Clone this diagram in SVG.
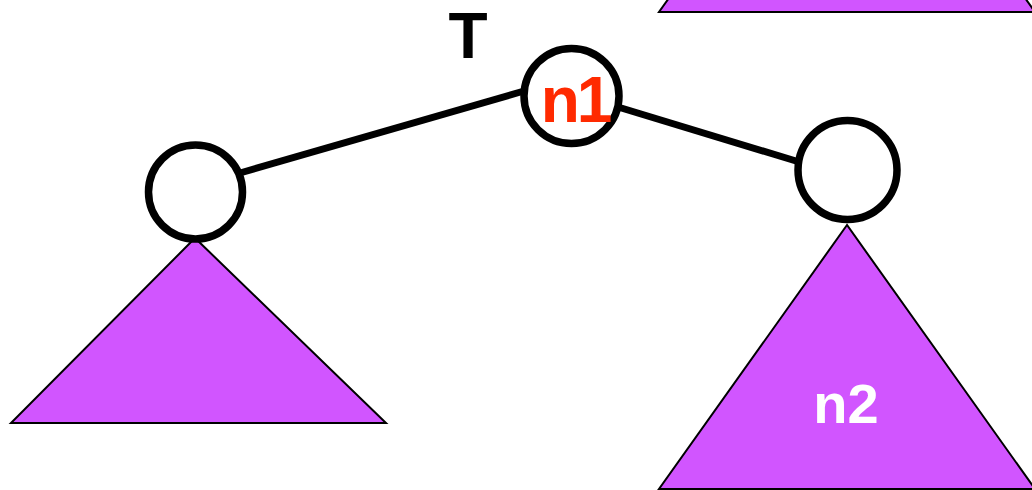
<svg xmlns="http://www.w3.org/2000/svg" width="1032" height="490" viewBox="0 0 1032 490">
<style>
.tri{fill:#D155FF;stroke:#000;stroke-width:2;stroke-linejoin:miter}
.node{fill:#fff;stroke:#000;stroke-width:7.5}
.edge{stroke:#000;stroke-width:7;fill:none}
.lbl{font-family:"Liberation Sans",Arial,sans-serif;font-weight:bold}
</style>
<rect width="1032" height="490" fill="#fff"/>
<g id="top-subtree"><polygon class="tri" points="847,-252 659,12 1035,12"/></g>
<g id="left-subtree"><polygon class="tri" points="195,238 11,423 386,423"/></g>
<g id="right-subtree"><polygon class="tri" points="847,225 659,489 1035,489"/>
<text class="lbl" x="846" y="423" font-size="56" fill="#fff" text-anchor="middle">n2</text></g>
<g id="connectors">
<line class="edge" x1="524" y1="91" x2="240" y2="173"/>
<line class="edge" x1="618" y1="107" x2="796" y2="161"/>
</g>
<g id="left-node"><circle class="node" cx="195.5" cy="192" r="47"/></g>
<g id="right-node"><circle class="node" cx="847.5" cy="170" r="49.5"/></g>
<g id="n1"><circle class="node" cx="571.5" cy="96" r="47.5"/>
<text class="lbl" x="575" y="122" font-size="64" fill="#FF2A00" text-anchor="middle" letter-spacing="-3">n1</text></g>
<text class="lbl" x="468" y="58" font-size="64" fill="#000" text-anchor="middle">T</text>
</svg>
